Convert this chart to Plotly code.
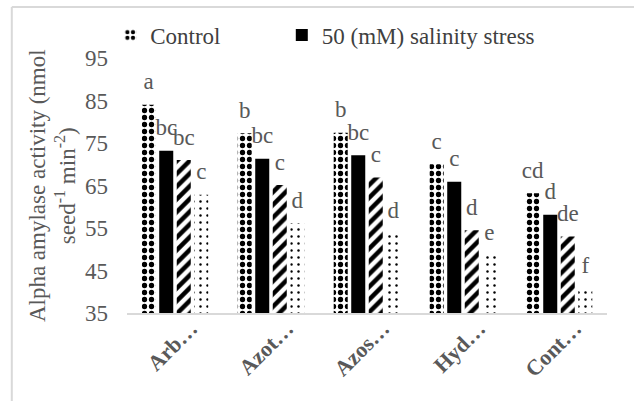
import plotly.graph_objects as go

categories = ["Arb…", "Azot…", "Azos…", "Hyd…", "Cont…"]
series_names = ["Control", "50 (mM) salinity stress", "100 (mM) salinity stress", "150 (mM) salinity stress"]
control = [84.0, 77.3, 77.4, 70.0, 63.2]
salt50 = [73.2, 71.3, 72.1, 65.9, 58.1]
salt100 = [71.0, 65.1, 66.9, 54.5, 53.0]
salt150 = [62.8, 56.1, 53.7, 48.6, 40.8]
letters_control = ["a", "b", "b", "c", "cd"]
letters_50 = ["bc", "bc", "bc", "c", "d"]
letters_100 = ["bc", "c", "c", "d", "de"]
letters_150 = ["c", "d", "d", "e", "f"]
y_ticks = [35, 45, 55, 65, 75, 85, 95]
y_title = "Alpha amylase activity (nmol<br>seed<sup>-1</sup> min<sup>-2</sup>)"

values = [control, salt50, salt100, salt150]
letters = [letters_control, letters_50, letters_100, letters_150]
patterns = [
    dict(shape=".", size=7, solidity=0.45, fgcolor="black", bgcolor="white", fillmode="replace"),
    None,
    dict(shape="/", size=9, solidity=0.5, fgcolor="black", bgcolor="white", fillmode="replace"),
    dict(shape=".", size=7, solidity=0.1, fgcolor="black", bgcolor="white", fillmode="replace"),
]
legend_ids = ["legend", "legend2", None, None]

FONT = "Liberation Serif"
GRAY = "#595959"

fig = go.Figure()
for i, (name, vals) in enumerate(zip(series_names, values)):
    kw = dict(x=categories, y=vals, name=name, offsetgroup=str(i),
              showlegend=legend_ids[i] is not None, marker_line_width=0)
    if legend_ids[i] is not None:
        kw["legend"] = legend_ids[i]
    if patterns[i] is None:
        kw["marker_color"] = "black"
    else:
        kw["marker_color"] = "white"
        kw["marker_pattern"] = patterns[i]
    fig.add_trace(go.Bar(**kw))

for i, (vals, labs) in enumerate(zip(values, letters)):
    fig.add_trace(go.Scatter(
        x=categories, y=vals, text=labs, mode="markers+text",
        textposition="top center", offsetgroup=str(i),
        marker=dict(size=14, opacity=0), showlegend=False, hoverinfo="skip",
        textfont=dict(family=FONT, size=23, color=GRAY), cliponaxis=False,
    ))

legend_style = dict(orientation="h", yanchor="middle", xanchor="left", y=1.09,
                    font=dict(family=FONT, size=23, color="#404040"),
                    bgcolor="rgba(0,0,0,0)")

fig.update_layout(
    width=634, height=401,
    margin=dict(l=127, r=27, t=58, b=88, autoexpand=False),
    paper_bgcolor="white", plot_bgcolor="white",
    barmode="group", bargap=0.27, bargroupgap=0.2,
    scattermode="group", scattergap=0.27,
    font=dict(family=FONT, size=23, color=GRAY),
    legend=dict(x=-0.035, **legend_style),
    legend2=dict(x=0.3225, **legend_style),
    xaxis=dict(showline=True, linecolor="#d9d9d9", linewidth=1.5, ticks="",
               tickangle=-45, ticklabelshift=16, ticklabelstandoff=-8,
               tickfont=dict(family=FONT, size=22, color=GRAY, weight="bold")),
    yaxis=dict(range=[35, 95], tickvals=y_ticks, showgrid=False, zeroline=False,
               showline=False, ticks="", ticklabelstandoff=18,
               tickfont=dict(family=FONT, size=23, color=GRAY)),
    annotations=[dict(text=y_title, xref="paper", yref="paper", x=-0.155, y=0.5,
                      xanchor="center", yanchor="middle", textangle=-90, showarrow=False,
                      align="center", font=dict(family=FONT, size=23, color=GRAY))],
    shapes=[
        dict(type="line", xref="paper", yref="paper", x0=-0.24, x1=1.06, y0=1.2, y1=1.2,
             line=dict(color="#d9d9d9", width=2)),
        dict(type="line", xref="paper", yref="paper", x0=-0.24, x1=-0.24, y0=1.2, y1=-0.35,
             line=dict(color="#d9d9d9", width=2)),
    ],
)

fig.write_html("out.html", config={"displayModeBar": False},
               post_script="document.body.style.margin='0';")
